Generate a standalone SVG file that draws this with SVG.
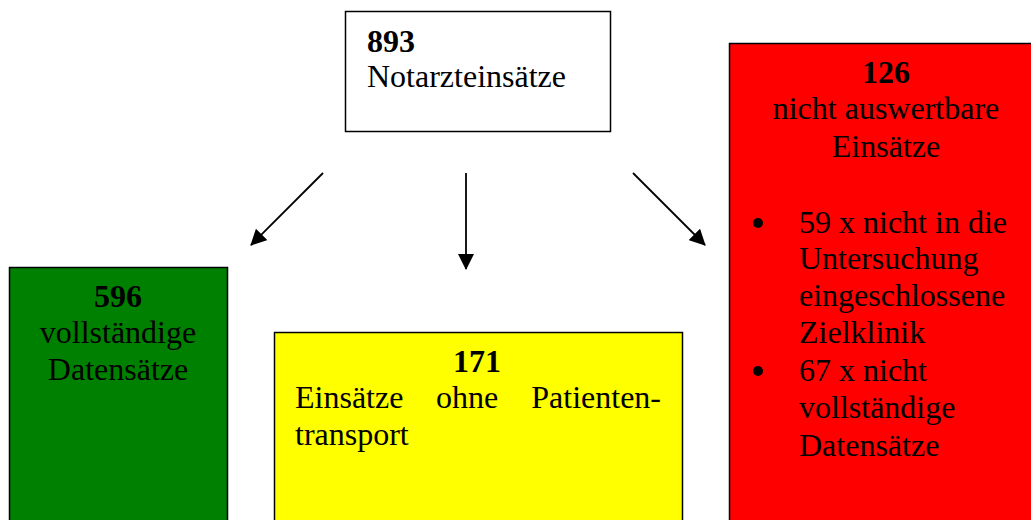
<svg xmlns="http://www.w3.org/2000/svg" width="1031" height="520" viewBox="0 0 1031 520">
<style>
text{font-family:"Liberation Serif","Times New Roman",serif;font-size:32px;fill:#000}
.b{font-weight:bold}
.c{text-anchor:middle}
.box{stroke:#000;stroke-width:1.5}
.con{stroke:#000;stroke-width:1.8;fill:none}
</style>
<defs>
<marker id="ah" markerUnits="userSpaceOnUse" markerWidth="16" markerHeight="16" refX="15" refY="8" orient="auto">
<path d="M0,0 L16,8 L0,16 Z" fill="#000"/>
</marker>
</defs>
<rect width="1031" height="520" fill="#fff"/>
<g id="connectors">
<line class="con" x1="323" y1="173" x2="251" y2="245" marker-end="url(#ah)"/>
<line class="con" x1="466" y1="173" x2="466" y2="269" marker-end="url(#ah)"/>
<line class="con" x1="633" y1="173" x2="705" y2="245" marker-end="url(#ah)"/>
</g>
<g id="node-top">
<rect class="box" x="345.5" y="11.5" width="265" height="120" fill="#fff"/>
<text class="b" x="367" y="52">893</text>
<text x="367" y="87">Notarzteinsätze</text>
</g>
<g id="node-green">
<rect class="box" x="9.5" y="267.5" width="218" height="270" fill="#008000"/>
<text class="b c" x="118" y="307">596</text>
<text class="c" x="118" y="343">vollständige</text>
<text class="c" x="118" y="380">Datensätze</text>
</g>
<g id="node-yellow">
<rect class="box" x="274.5" y="332.5" width="408" height="200" fill="#ffff00"/>
<text class="b c" x="477" y="372">171</text>
<text x="295" y="408">Einsätze</text>
<text x="467" y="408" text-anchor="middle">ohne</text>
<text x="661" y="408" text-anchor="end">Patienten-</text>
<text x="295" y="445">transport</text>
</g>
<g id="node-red">
<rect class="box" x="729.5" y="43.5" width="320" height="500" fill="#ff0000"/>
<text class="b c" x="886" y="83">126</text>
<text class="c" x="886" y="119">nicht auswertbare</text>
<text class="c" x="886" y="157">Einsätze</text>
<circle cx="758" cy="223" r="5" fill="#000"/>
<text x="799" y="233">59 x nicht in die</text>
<text x="799" y="269">Untersuchung</text>
<text x="799" y="306">eingeschlossene</text>
<text x="799" y="343">Zielklinik</text>
<circle cx="758" cy="371" r="5" fill="#000"/>
<text x="799" y="381">67 x nicht</text>
<text x="799" y="418">vollständige</text>
<text x="799" y="456">Datensätze</text>
</g>
</svg>
